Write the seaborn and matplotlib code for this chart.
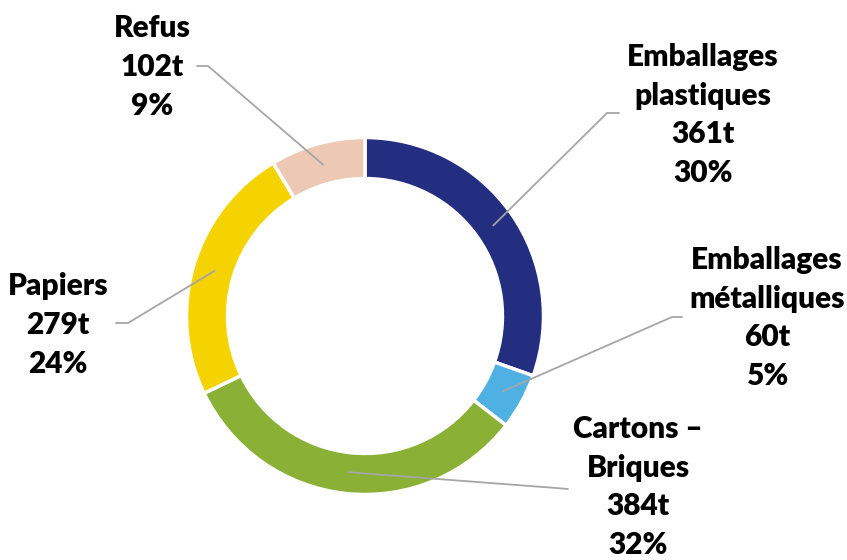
import numpy as np
import matplotlib.pyplot as plt
import seaborn as sns

# ===================== 数据 =====================
categories = ['Emballages\nplastiques', 'Emballages\nmétalliques', 'Cartons –\nBriques', 'Papiers', 'Refus']
tonnes = [361, 60, 384, 279, 102]
percents = ['30%', '5%', '32%', '24%', '9%']
colors = ['#232E80', '#4FB0E3', '#8AB035', '#F5D300', '#EDC9B5']

# label text centre and leader elbow (pixel coords of the 847x560 canvas)
label_pos = [(703, 115), (767, 318), (638, 487), (58, 325), (152, 67)]
elbow_pos = [(607, 113), (672, 317), (556, 488), (128, 323), (208, 66)]
elbow_end = [(619, 113), (682, 317), (568, 489), (116, 323), (197, 66)]

sns.set_theme(style='white')
plt.rcParams['font.family'] = ['Lato', 'DejaVu Sans']

W, H, DPI = 847, 560, 100
CX, CY, R = 365, 316, 178.5

def to_data(p):
    return ((p[0] - CX) / R, (CY - p[1]) / R)

fig = plt.figure(figsize=(W / DPI, H / DPI), dpi=DPI)
ax = fig.add_axes([0, 0, 1, 1])

wedges, _ = ax.pie(
    tonnes,
    colors=colors,
    startangle=90,
    counterclock=False,
    radius=1.0,
    wedgeprops=dict(width=0.23, edgecolor='white', linewidth=2.5),
)

for w, cat, t, pct, lp, ep, ee in zip(wedges, categories, tonnes, percents,
                                      label_pos, elbow_pos, elbow_end):
    ang = np.deg2rad((w.theta1 + w.theta2) / 2)
    x0, y0 = 0.88 * np.cos(ang), 0.88 * np.sin(ang)
    ex, ey = to_data(ep)
    fx, fy = to_data(ee)
    ax.plot([x0, ex, fx], [y0, ey, fy], color='#A6A6A6', lw=1.3,
            solid_joinstyle='miter')
    tx, ty = to_data(lp)
    ax.text(tx, ty, f'{cat}\n{t}t\n{pct}', ha='center', va='center',
            fontsize=21.5, fontweight=800, color='black', linespacing=1.47)

ax.set_xlim(-CX / R, (W - CX) / R)
ax.set_ylim(-(H - CY) / R, CY / R)
ax.set_aspect('auto')
ax.axis('off')

plt.savefig('out.png', dpi=DPI)
